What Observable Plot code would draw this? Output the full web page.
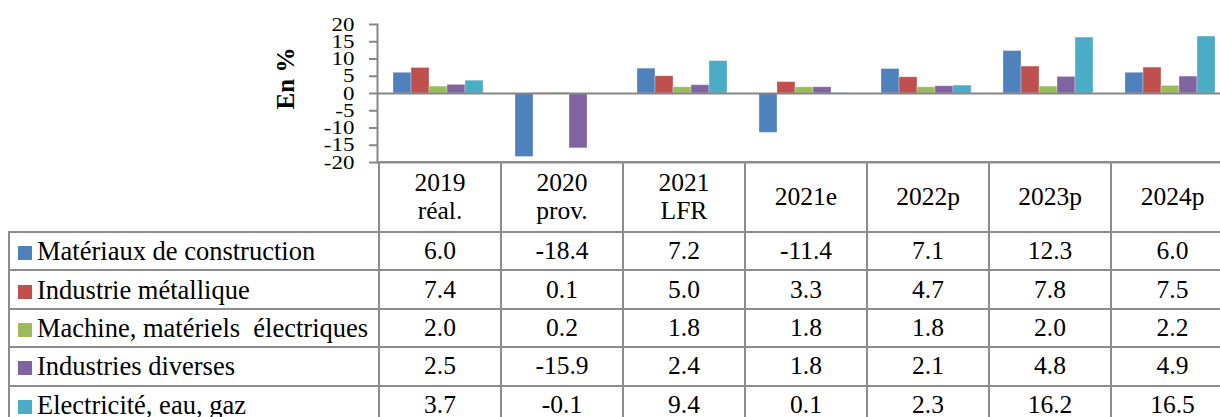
<!DOCTYPE html>
<html><head><meta charset="utf-8">
<script src="https://cdn.jsdelivr.net/npm/d3@7"></script>
<script src="https://cdn.jsdelivr.net/npm/@observablehq/plot@0.6"></script>
<style>
html,body{margin:0;padding:0;background:#fff;overflow:hidden;width:1220px;height:417px;}
#wrap{position:relative;width:1231px;height:417px;font-family:"Liberation Serif","Times New Roman",Tinos,"DejaVu Serif","Noto Serif",serif;overflow:hidden;}
#chart{position:absolute;left:0;top:0;}
#chart svg{display:block;}
table{position:absolute;left:8px;top:161px;border-collapse:collapse;table-layout:fixed;font-size:25.5px;color:#000;width:1224px;font-family:inherit;}
td{border:2px solid #8c8c8c;padding:0;text-align:center;white-space:nowrap;overflow:hidden;box-sizing:border-box;}
td:last-child{border-right:none;}
tr.head td{height:70px;line-height:28px;}
tr.head td.blank{border-top:none;border-left:none;}
tr.body td{height:38.4px;line-height:30px;}
td.leg{text-align:left;padding-left:8px;white-space:pre;font-size:26.5px;}
.sw{display:inline-block;width:14px;height:14px;margin-right:5px;position:relative;top:0px;}
</style>
</head><body>
<div id="wrap"><div id="chart"></div><table id="tbl"></table></div>
<script>
const categories = ["2019\nréal.", "2020\nprov.", "2021\nLFR", "2021e", "2022p", "2023p", "2024p"];
const series = ["Matériaux de construction", "Industrie métallique", "Machine, matériels  électriques", "Industries diverses", "Electricité, eau, gaz"];
const colors = ["#4F81BD", "#C0504D", "#9BBB59", "#8064A2", "#4BACC6"];
const materiaux   = [6.0, -18.4, 7.2, -11.4, 7.1, 12.3, 6.0];
const metallique  = [7.4, 0.1, 5.0, 3.3, 4.7, 7.8, 7.5];
const machine     = [2.0, 0.2, 1.8, 1.8, 1.8, 2.0, 2.2];
const diverses    = [2.5, -15.9, 2.4, 1.8, 2.1, 4.8, 4.9];
const electricite = [3.7, -0.1, 9.4, 0.1, 2.3, 16.2, 16.5];
const yTicks = [-20, -15, -10, -5, 0, 5, 10, 15, 20];
const yLabel = "En %";

const serif = '"Liberation Serif", "Times New Roman", Tinos, "DejaVu Serif", "Noto Serif", serif';
const values = [materiaux, metallique, machine, diverses, electricite];
const data = [];
series.forEach((s, i) => values[i].forEach((v, j) => data.push({cat: categories[j], series: s, value: v})));

const chart = Plot.plot({
  width: 1231, height: 165,
  marginLeft: 377, marginRight: 0, marginTop: 24, marginBottom: 3,
  style: {fontFamily: serif, fontSize: "23px", color: "black", background: "white", overflow: "visible"},
  fx: {domain: categories, padding: 0, axis: null},
  x: {domain: series, paddingInner: 0, paddingOuter: 0.75, axis: null},
  y: {domain: [-20, 20], axis: null},
  color: {domain: series, range: colors},
  marks: [
    Plot.barY(data, {fx: "cat", x: "series", y: "value", fill: "series", stroke: "white", strokeOpacity: 0.3, strokeWidth: 1}),
    Plot.ruleY([0], {stroke: "#868686", strokeWidth: 2}),
    Plot.ruleY([-20], {stroke: "#8c8c8c", strokeWidth: 2}),
    Plot.frame({anchor: "left", facetAnchor: "left", stroke: "#868686", strokeWidth: 2}),
    Plot.axisY({ticks: yTicks, tickSize: 8, tickPadding: 15, tickFormat: d => String(d), stroke: "#868686", strokeWidth: 2, fill: "black", fontSize: 23, label: null}),
    Plot.text([yLabel], {frameAnchor: "left", textAnchor: "middle", lineAnchor: "middle", dx: -92, dy: -15, rotate: -90, fontWeight: "bold", fontSize: 25, facetAnchor: "left", fill: "black"})
  ]
});
// squash tick labels vertically like the reference
chart.querySelectorAll('g[aria-label="y-axis tick label"] text').forEach(t => {
  const tr = t.getAttribute("transform");
  if (tr && tr.startsWith("translate(")) t.setAttribute("transform", tr + " scale(1,0.83)");
});
document.getElementById("chart").appendChild(chart);

// data table
const tbl = document.getElementById("tbl");
let html = '<colgroup><col style="width:370px">' + categories.map(() => '<col style="width:122px">').join("") + '</colgroup>';
html += '<tr class="head"><td class="blank"></td>' + categories.map(c => '<td>' + c.split("\n").join("<br>") + '</td>').join("") + '</tr>';
series.forEach((s, i) => {
  html += '<tr class="body"><td class="leg"><span class="sw" style="background:' + colors[i] + '"></span>' + s + '</td>' +
    values[i].map(v => '<td>' + v.toFixed(1) + '</td>').join("") + '</tr>';
});
tbl.innerHTML = html;
</script>
</body></html>
